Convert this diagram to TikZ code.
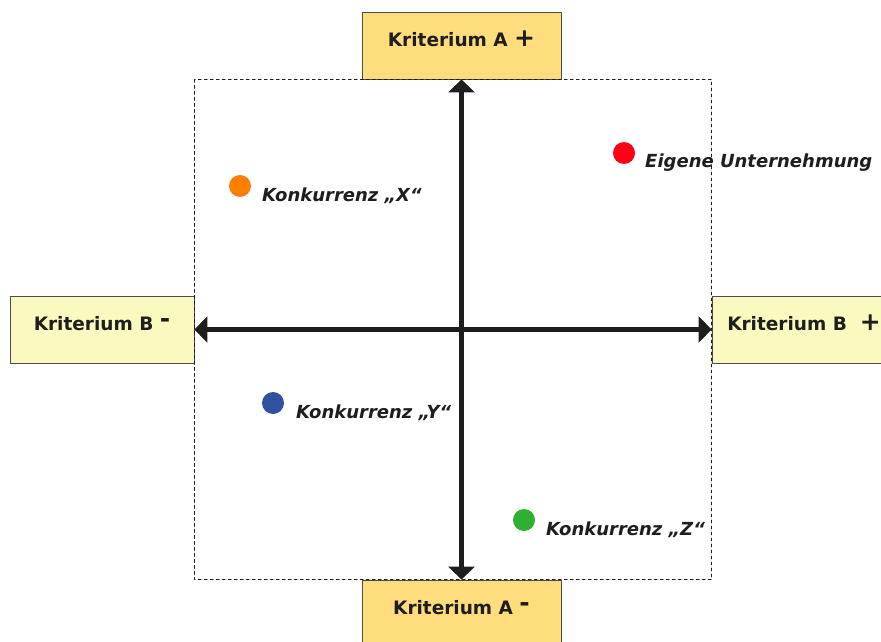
\documentclass[tikz,border=0pt]{standalone}
\usepackage{fontspec}
\setmainfont{DejaVu Sans}
\usetikzlibrary{arrows.meta}

\definecolor{boxA}{RGB}{255,221,125}
\definecolor{boxB}{RGB}{250,250,192}
\definecolor{ink}{RGB}{30,30,30}

\begin{document}
\begin{tikzpicture}[line cap=round,line join=round,>={Triangle[width=26pt,length=13pt]},x=1pt,y=-1pt,
    krit/.style={draw=ink!80,line width=0.8pt,inner sep=0pt,minimum height=67pt,
      text height=14pt,text depth=12.5pt,
      text=ink,font=\fontsize{18.5}{20}\selectfont\bfseries},
    firma/.style={circle,inner sep=0pt,minimum size=22pt},
    firmtext/.style={anchor=west,inner sep=0pt,text=ink,font=\fontsize{18}{20}\selectfont\bfseries\itshape}]
  \useasboundingbox (0,0) rectangle (881,642);
  \clip (0,0) rectangle (881,642);

  % Kriterien
  \node[krit,fill=boxA,minimum width=199pt] (aplus) at (461.5,45.5) {Kriterium A {\fontsize{25}{25}\selectfont +}};
  \node[krit,fill=boxA,minimum width=199pt] (aminus) at (461.5,613.5) {Kriterium A \raisebox{3pt}{\fontsize{25}{25}\selectfont -}};
  \node[krit,fill=boxB,minimum width=184pt] (bminus) at (102,329.5) {Kriterium B \raisebox{3pt}{\fontsize{25}{25}\selectfont -}};
  \node[krit,fill=boxB,minimum width=184pt] (bplus) at (804,329.5) {Kriterium B\ \ {\fontsize{25}{25}\selectfont +}};

  \draw[dashed,ink,line width=0.7pt] (bminus.east |- aplus.south) rectangle (bplus.west |- aminus.north);

  % Achsen
  \draw[<->,ink,line width=4.5pt,line cap=butt] (aminus.north) -- (aplus.south);
  \draw[<->,ink,line width=4.5pt,line cap=butt] (bminus.east) -- (bplus.west);

  % Unternehmen
  \node[firma,fill={rgb,255:red,255;green,0;blue,20}] (eigen) at (624,153) {};
  \node[firma,fill={rgb,255:red,255;green,128;blue,0}] (konX) at (240,186) {};
  \node[firma,fill={rgb,255:red,48;green,80;blue,160}] (konY) at (273,403) {};
  \node[firma,fill={rgb,255:red,48;green,176;blue,48}] (konZ) at (524,520) {};

  \node[firmtext] (eigentext) at (645,163) {Eigene Unternehmung};
  \node[firmtext] (konXtext) at (262,196) {Konkurrenz „X“};
  \node[firmtext] (konYtext) at (296,413) {Konkurrenz „Y“};
  \node[firmtext] (konZtext) at (546,530) {Konkurrenz „Z“};
\end{tikzpicture}
\end{document}
